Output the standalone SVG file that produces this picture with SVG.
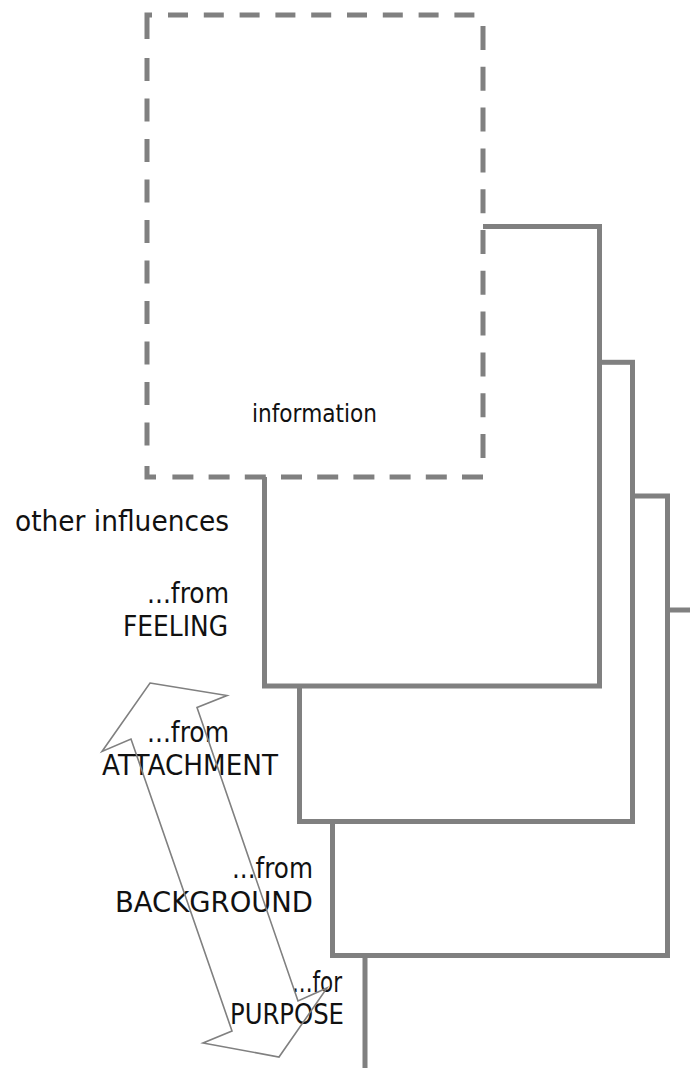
<svg xmlns="http://www.w3.org/2000/svg" width="690" height="1068" viewBox="0 0 690 1068">
  <style>
    .box { fill: #ffffff; stroke: #808080; stroke-width: 5; }
    .dash { fill: none; stroke: #808080; stroke-width: 5; }
    .corner { fill: none; stroke: #808080; stroke-width: 5; stroke-linejoin: miter; }
    .lbl { font-family: "DejaVu Sans", "Liberation Sans", sans-serif; font-size: 28px; fill: #111111; }
    .small { font-size: 24px; }
    .arrow { fill: none; stroke: #808080; stroke-width: 1.6; stroke-linejoin: miter; }
  </style>
  <rect width="690" height="1068" fill="#ffffff"/>

  <g id="box-4"><rect class="box" x="365" y="610" width="335" height="500"/></g>
  <g id="box-3"><rect class="box" x="332.5" y="496" width="335" height="459.5"/></g>
  <g id="box-2"><rect class="box" x="299.5" y="362.3" width="333" height="459.2"/></g>
  <g id="box-1"><rect class="box" x="264.5" y="226.5" width="335" height="459.5"/></g>

  <g id="information">
    <rect x="147" y="15" width="336" height="462" fill="#ffffff"/>
    <path class="corner" d="M147,39 V15 H152"/>
    <line class="dash" x1="168" y1="15" x2="475" y2="15" stroke-dasharray="20 15.8"/>
    <line class="dash" x1="147" y1="58" x2="147" y2="463" stroke-dasharray="23 17.5"/>
    <line class="dash" x1="483" y1="26" x2="483" y2="459" stroke-dasharray="24 16.8"/>
    <path class="corner" d="M147,466 V477 H156"/>
    <line class="dash" x1="483" y1="477" x2="170" y2="477" stroke-dasharray="21 15.2"/>
    <text class="lbl small" x="252" y="422" textLength="125" lengthAdjust="spacingAndGlyphs">information</text>
  </g>

  <g id="label-other"><text class="lbl" x="15" y="531" textLength="214" lengthAdjust="spacingAndGlyphs">other influences</text></g>
  <g id="label-feeling">
    <text class="lbl" x="147" y="603" textLength="82" lengthAdjust="spacingAndGlyphs">...from</text>
    <text class="lbl" x="123" y="636" textLength="105" lengthAdjust="spacingAndGlyphs">FEELING</text>
  </g>
  <g id="label-attachment">
    <text class="lbl" x="147" y="742" textLength="82" lengthAdjust="spacingAndGlyphs">...from</text>
    <text class="lbl" x="102" y="775" textLength="176" lengthAdjust="spacingAndGlyphs">ATTACHMENT</text>
  </g>
  <g id="label-background">
    <text class="lbl" x="232" y="878" textLength="81" lengthAdjust="spacingAndGlyphs">...from</text>
    <text class="lbl" x="115" y="912" textLength="198" lengthAdjust="spacingAndGlyphs">BACKGROUND</text>
  </g>
  <g id="label-purpose">
    <text class="lbl" x="292" y="992" textLength="50" lengthAdjust="spacingAndGlyphs">...for</text>
    <text class="lbl" x="230" y="1024" textLength="114" lengthAdjust="spacingAndGlyphs">PURPOSE</text>
  </g>

  <g id="connectors">
    <polygon class="arrow" points="150,683 227,695.5 197,707.5 298,1001 327,988 279,1057 203,1043 232,1031 131,739 102,751.5"/>
  </g>
</svg>
